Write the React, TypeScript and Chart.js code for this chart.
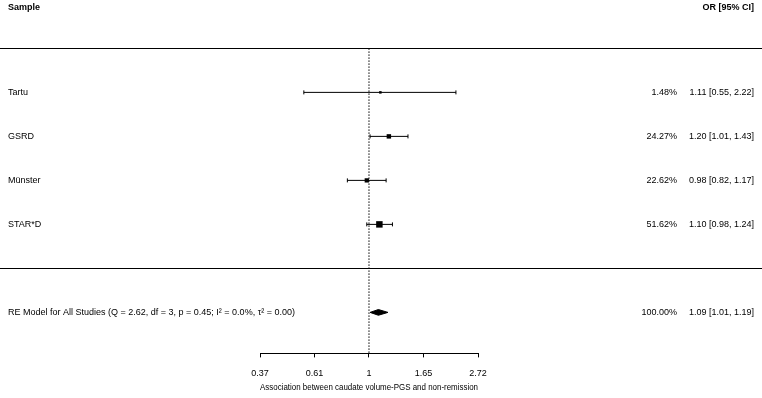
import React, { useEffect, useRef } from "react";
import { Chart, registerables } from "chart.js";

Chart.register(...registerables);

// ---- data ----
const studies = ["Tartu", "GSRD", "Münster", "STAR*D"];
const estimates = [1.11, 1.2, 0.98, 1.1];
const lower = [0.55, 1.01, 0.82, 0.98];
const upper = [2.22, 1.43, 1.17, 1.24];
const weights = [1.48, 24.27, 22.62, 51.62];
const weightLabels = ["1.48%", "24.27%", "22.62%", "51.62%"];
const ciLabels = ["1.11 [0.55, 2.22]", "1.20 [1.01, 1.43]", "0.98 [0.82, 1.17]", "1.10 [0.98, 1.24]"];

const summaryLabel = "RE Model for All Studies (Q = 2.62, df = 3, p = 0.45; I² = 0.0%, τ² = 0.00)";
const summaryEstimate = 1.09;
const summaryLower = 1.01;
const summaryUpper = 1.19;
const summaryWeightLabel = "100.00%";
const summaryCiLabel = "1.09 [1.01, 1.19]";

const tickValues = [0.3679, 0.6065, 1, 1.6487, 2.7183];
const tickLabels = ["0.37", "0.61", "1", "1.65", "2.72"];
const xTitle = "Association between caudate volume-PGS and non-remission";
const headerLeft = "Sample";
const headerRight = "OR [95% CI]";

export default function App() {
  const ref = useRef<HTMLCanvasElement | null>(null);

  useEffect(() => {
    const canvas = ref.current;
    if (!canvas) return;
    const k = studies.length;
    const rows = studies.map((_, i) => k - i); // 4,3,2,1
    const summaryRow = -1;
    const font = "'Liberation Sans', Arial, sans-serif";
    const fs = 9;

    const datasets: any[] = [];
    // squares
    datasets.push({
      type: "scatter",
      data: studies.map((_, i) => ({ x: estimates[i], y: rows[i] })),
      pointStyle: "rect",
      pointRadius: weights.map((w) => Math.max(2.5, 0.9 * Math.sqrt(w)) / Math.SQRT2),
      backgroundColor: "#000",
      borderColor: "#000",
      pointBorderWidth: 0,
      order: 1,
      clip: false,
    });
    // CI bars
    studies.forEach((_, i) => {
      datasets.push({
        type: "scatter",
        data: [
          { x: lower[i], y: rows[i] },
          { x: upper[i], y: rows[i] },
        ],
        showLine: true,
        borderColor: "#000",
        borderWidth: 1,
        pointStyle: "line",
        pointRotation: 90,
        pointRadius: 2,
        pointBorderWidth: 1,
        pointBorderColor: "#000",
        order: 2,
        clip: false,
      });
    });
    // diamond
    const h = 0.065;
    datasets.push({
      type: "scatter",
      data: [
        { x: summaryLower, y: summaryRow },
        { x: summaryEstimate, y: summaryRow + h },
        { x: summaryUpper, y: summaryRow },
        { x: summaryEstimate, y: summaryRow - h },
        { x: summaryLower, y: summaryRow },
      ],
      showLine: true,
      fill: "shape",
      backgroundColor: "#000",
      borderColor: "#000",
      borderWidth: 1,
      pointRadius: 0,
      order: 1,
      clip: false,
    });
    // reference line at 1
    datasets.push({
      type: "scatter",
      data: [
        { x: 1, y: k + 1 },
        { x: 1, y: -1.932 },
      ],
      showLine: true,
      borderColor: "#000",
      borderWidth: 1,
      borderDash: [1.5, 1.5],
      pointRadius: 0,
      order: 3,
      clip: false,
    });

    const textPlugin = {
      id: "forestText",
      afterDraw(chart: any) {
        const c = chart.ctx;
        const ys = chart.scales.y;
        const W = chart.width;
        c.save();
        c.strokeStyle = "#000";
        c.lineWidth = 1;
        [k + 1, 0].forEach((r) => {
          const py = Math.round(ys.getPixelForValue(r)) + 0.5;
          c.beginPath();
          c.moveTo(0, py);
          c.lineTo(W, py);
          c.stroke();
        });
        c.fillStyle = "#000";
        c.textBaseline = "middle";
        c.font = `bold ${fs}px ${font}`;
        c.textAlign = "left";
        const hy = 8;
        c.fillText(headerLeft, 8, hy);
        c.textAlign = "right";
        c.fillText(headerRight, 754, hy);
        c.font = `${fs}px ${font}`;
        studies.forEach((s, i) => {
          const py = ys.getPixelForValue(rows[i]);
          c.textAlign = "left";
          c.fillText(s, 8, py);
          c.textAlign = "right";
          c.fillText(weightLabels[i], 677, py);
          c.fillText(ciLabels[i], 754, py);
        });
        const sy = ys.getPixelForValue(summaryRow);
        c.textAlign = "left";
        c.fillText(summaryLabel, 8, sy);
        c.textAlign = "right";
        c.fillText(summaryWeightLabel, 677, sy);
        c.fillText(summaryCiLabel, 754, sy);
        c.restore();
      },
    };

    const chart = new Chart(canvas, {
      type: "scatter",
      data: { datasets },
      options: {
        animation: false,
        responsive: false,
        devicePixelRatio: 1,
        layout: { padding: { left: 260, right: 284, top: 0, bottom: 0 } },
        plugins: { legend: { display: false }, tooltip: { enabled: false } },
        scales: {
          x: {
            type: "logarithmic",
            min: tickValues[0],
            max: tickValues[tickValues.length - 1],
            afterBuildTicks: (axis: any) => {
              axis.ticks = tickValues.map((v) => ({ value: v }));
            },
            border: { display: true, color: "#000", width: 1 },
            grid: { drawOnChartArea: false, drawTicks: true, tickLength: 4, color: "#000", lineWidth: 1 },
            ticks: {
              autoSkip: false,
              maxRotation: 0,
              padding: 11,
              color: "#000",
              font: { family: font, size: fs },
              callback: (_v: any, i: number) => tickLabels[i],
            },
            title: {
              display: true,
              text: xTitle,
              color: "#000",
              font: { family: font, size: fs },
              padding: { top: -7.6, bottom: 4.6 },
            },
          },
          y: {
            type: "linear",
            display: false,
            min: -1.932,
            max: 5.986,
          },
        },
      },
      plugins: [textPlugin],
    });
    return () => chart.destroy();
  }, []);

  return (
    <div style={{ position: "fixed", left: 0, top: 0, width: 762, height: 398, background: "#fff" }}>
      <canvas ref={ref} width={762} height={398} />
    </div>
  );
}
